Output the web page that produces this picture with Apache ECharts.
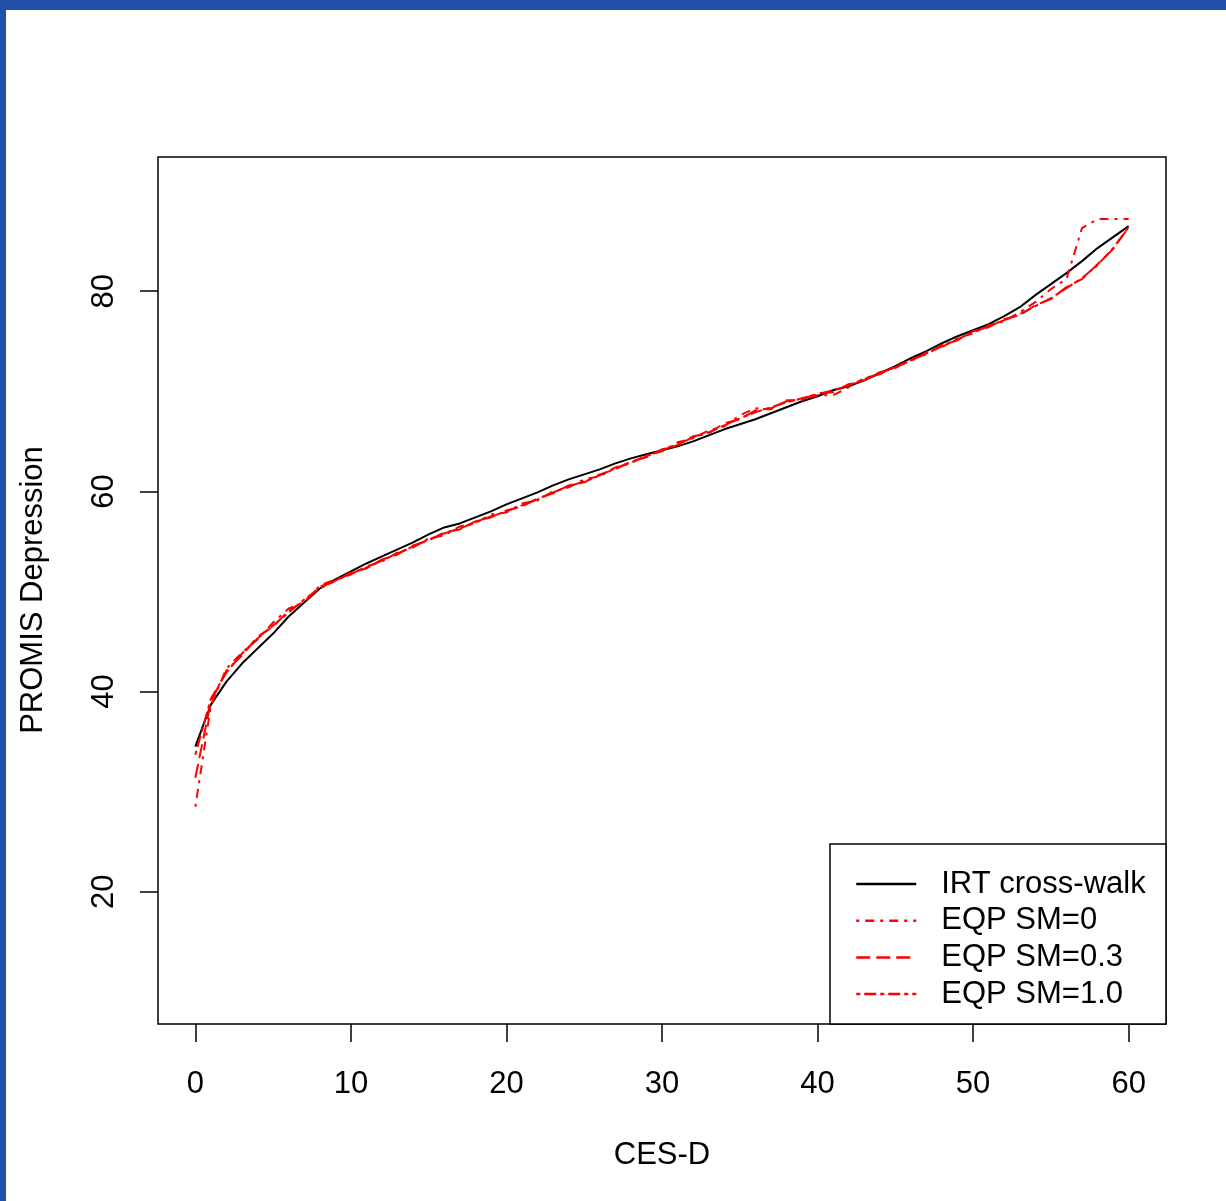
<!DOCTYPE html>
<html>
<head>
<meta charset="utf-8">
<style>
    body { margin: 0; background: #fff; }
    #chart { position: absolute; left: 0; top: 0; width: 1226px; height: 1201px; }
    .bar { position: absolute; background: #2150a8; }
</style>
<script src="https://cdn.jsdelivr.net/npm/echarts@6.0.0/dist/echarts.min.js"></script>
</head>
<body>
<div id="chart"></div>
<div class="bar" style="left:0;top:0;width:1226px;height:10px;"></div>
<div class="bar" style="left:0;top:0;width:6px;height:1201px;"></div>
<script>
// CES-D raw scores (x)
var cesd = [0, 1, 2, 3, 4, 5, 6, 7, 8, 9, 10, 11, 12, 13, 14, 15, 16, 17, 18, 19, 20,
    21, 22, 23, 24, 25, 26, 27, 28, 29, 30, 31, 32, 33, 34, 35, 36, 37, 38, 39, 40,
    41, 42, 43, 44, 45, 46, 47, 48, 49, 50, 51, 52, 53, 54, 55, 56, 57, 58, 59, 60];

// PROMIS Depression linked scores
var irt = [34.5, 38.7, 41.0, 42.8, 44.3, 45.8, 47.5, 48.9, 50.3, 51.2, 52.0,
    52.8, 53.5, 54.2, 54.9, 55.7, 56.4, 56.8, 57.4, 58.0, 58.7,
    59.3, 59.9, 60.6, 61.2, 61.7, 62.2, 62.8, 63.3, 63.7, 64.1,
    64.5, 65.0, 65.6, 66.2, 66.7, 67.2, 67.8, 68.4, 69.0, 69.5,
    70.1, 70.5, 71.1, 71.8, 72.5, 73.3, 74.0, 74.8, 75.5, 76.1,
    76.7, 77.5, 78.4, 79.6, 80.7, 81.8, 83.0, 84.3, 85.4, 86.5];
var eqp0 = [28.5, 38.6, 42.3, 43.9, 45.2, 46.9, 48.3, 48.9, 50.6, 51.2, 51.7,
    52.5, 53.0, 53.9, 54.4, 55.3, 55.6, 56.5, 56.8, 57.7, 57.9,
    58.8, 59.1, 60.0, 60.4, 61.2, 61.5, 62.4, 62.8, 63.6, 64.0,
    64.9, 65.3, 66.1, 66.5, 67.6, 68.3, 68.2, 69.1, 69.1, 69.6,
    69.6, 70.4, 71.3, 71.7, 72.5, 73.0, 73.9, 74.4, 75.3, 75.8,
    76.6, 77.0, 77.9, 78.9, 80.2, 81.2, 86.3, 87.2, 87.2, 87.2];
var eqp03 = [31.4, 39.0, 42.1, 43.6, 45.5, 46.5, 48.1, 49.0, 50.5, 51.0, 51.9,
    52.3, 53.2, 53.7, 54.6, 55.1, 55.9, 56.2, 57.0, 57.4, 58.1,
    58.5, 59.3, 59.8, 60.6, 60.9, 61.7, 62.2, 63.0, 63.4, 64.2,
    64.6, 65.5, 65.8, 66.8, 67.2, 68.1, 68.3, 69.0, 69.2, 69.8,
    69.9, 70.7, 71.1, 71.9, 72.3, 73.2, 73.7, 74.6, 75.1, 76.0,
    76.4, 77.2, 77.6, 78.6, 79.2, 80.4, 81.2, 82.7, 84.2, 86.4];
var eqp10 = [33.7, 39.3, 41.9, 43.8, 45.3, 46.6, 47.9, 49.2, 50.3, 51.1, 51.8,
    52.4, 53.1, 53.8, 54.5, 55.2, 55.8, 56.3, 56.9, 57.5, 58.0,
    58.6, 59.2, 59.9, 60.5, 61.0, 61.6, 62.3, 62.9, 63.5, 64.1,
    64.7, 65.4, 65.9, 66.6, 67.3, 67.9, 68.4, 68.9, 69.3, 69.7,
    70.1, 70.6, 71.2, 71.8, 72.4, 73.1, 73.8, 74.5, 75.2, 75.9,
    76.5, 77.1, 77.7, 78.5, 79.3, 80.3, 81.3, 82.6, 84.3, 86.4];

var xTicks = [0, 10, 20, 30, 40, 50, 60];
var yTicks = [20, 40, 60, 80];
var names = ['IRT cross-walk', 'EQP SM=0', 'EQP SM=0.3', 'EQP SM=1.0'];

function pairs(ys) {
    return cesd.map(function (x, i) { return [x, ys[i]]; });
}

var font = 'Liberation Sans, Arial, sans-serif';
var chart = echarts.init(document.getElementById('chart'));

function lineSeries(name, ys, color, dash) {
    return {
        name: name,
        type: 'line',
        data: pairs(ys),
        symbol: 'none',
        lineStyle: { color: color, width: 2, type: dash },
        itemStyle: { color: color }
    };
}

chart.setOption({
    animation: false,
    grid: {
        left: 158, top: 157, width: 1008, height: 867,
        show: true, borderColor: '#000', borderWidth: 1.5,
        backgroundColor: 'transparent'
    },
    xAxis: {
        type: 'value', min: -2.4, max: 62.4,
        axisLine: { show: false, onZero: false },
        axisTick: { show: true, inside: false, length: 18, customValues: xTicks,
            lineStyle: { color: '#000', width: 1.5 } },
        axisLabel: { customValues: xTicks, margin: 45, fontSize: 31, lineHeight: 31,
            color: '#000', fontFamily: font },
        splitLine: { show: false }
    },
    yAxis: {
        type: 'value', min: 6.8, max: 93.4,
        axisLine: { show: false, onZero: false },
        axisTick: { show: true, inside: false, length: 18, customValues: yTicks,
            lineStyle: { color: '#000', width: 1.5 } },
        axisLabel: { customValues: yTicks, rotate: 90, margin: 38, fontSize: 31, lineHeight: 31,
            color: '#000', fontFamily: font },
        splitLine: { show: false }
    },
    legend: {
        data: names,
        orient: 'vertical',
        left: 855, top: 866,
        padding: 0,
        itemWidth: 60, itemHeight: 20, itemGap: 0.7,
        itemStyle: { opacity: 0 },
        lineStyle: { width: 2.5 },
        textStyle: { fontSize: 31, lineHeight: 36, color: '#000', fontFamily: font,
            padding: [0, 0, 0, 20] }
    },
    graphic: [
        { type: 'rect', z: 3, shape: { x: 830, y: 844, width: 336, height: 180 },
          style: { fill: '#fff', stroke: '#000', lineWidth: 1.5 } },
        { type: 'text', x: 662, y: 1155,
          style: { text: 'CES-D', fontSize: 31, fontFamily: font, fill: '#000',
                   align: 'center', verticalAlign: 'middle' } },
        { type: 'text', x: 33, y: 590, rotation: Math.PI / 2,
          style: { text: 'PROMIS Depression', fontSize: 31, fontFamily: font, fill: '#000',
                   align: 'center', verticalAlign: 'middle' } }
    ],
    series: [
        lineSeries(names[0], irt, '#000', 'solid'),
        lineSeries(names[1], eqp0, '#ff0000', [3, 6, 9, 6]),
        lineSeries(names[2], eqp03, '#ff0000', [14, 6]),
        lineSeries(names[3], eqp10, '#ff0000', [4, 4, 12, 4])
    ]
});
</script>
</body>
</html>
